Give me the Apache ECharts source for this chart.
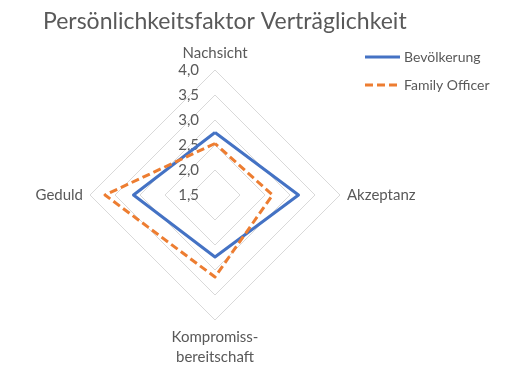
<!DOCTYPE html>
<html><head><meta charset="utf-8">
<script src="https://cdn.jsdelivr.net/npm/echarts@6/dist/echarts.min.js"></script>
<style>html,body{margin:0;padding:0;background:#fff}#c{width:519px;height:389px}</style>
</head><body><div id="c"></div>
<script>
// values in natural (clockwise from top) order
const indicators = ['Nachsicht', 'Akzeptanz', 'Kompromiss-\nbereitschaft', 'Geduld'];
const seriesNames = ['Bevölkerung', 'Family Officer'];
const bevoelkerung = [2.75, 3.17, 2.74, 3.13];
const familyOfficer = [2.53, 2.65, 3.14, 3.7];
const axisMin = 1.5, axisMax = 4.0, axisStep = 0.5;

// ECharts radar runs counter-clockwise; reorder so the layout goes clockwise
const order = [0, 3, 2, 1];
const reorder = arr => order.map(i => arr[i]);

const FONT = 'Lato';
const TXT = '#595959';
const chart = echarts.init(document.getElementById('c'));
chart.setOption({
  backgroundColor: '#fff',
  title: {
    text: 'Persönlichkeitsfaktor Verträglichkeit',
    left: 38, top: 5,
    textStyle: {fontFamily: FONT, fontSize: 23, fontWeight: 'normal', color: TXT}
  },
  legend: [
    {data: [{name: seriesNames[0], icon: 'rect'}], left: 365, top: 50, orient: 'vertical', padding: 0,
     itemWidth: 35, itemHeight: 3, itemGap: 8,
     textStyle: {fontFamily: FONT, fontSize: 14, color: TXT, padding: [0,0,0,-1]}},
    {data: [{name: seriesNames[1], icon: 'path://M0,0h8v3h-8zM12,0h8v3h-8zM24,0h8v3h-8z'}], left: 365, top: 78, orient: 'vertical', padding: 0,
     itemWidth: 32, itemHeight: 3, itemGap: 8,
     textStyle: {fontFamily: FONT, fontSize: 14, color: TXT, padding: [0,0,0,2]}}
  ],
  radar: {
    center: [215, 195], radius: 125, shape: 'polygon', splitNumber: 5,
    startAngle: 90,
    indicator: reorder(indicators).map(n => ({name: n, min: axisMin, max: axisMax})),
    axisName: {fontFamily: FONT, fontSize: 15, color: TXT, lineHeight: 20},
    nameGap: 7,
    axisLine: {show: false},
    axisTick: {show: false},
    axisLabel: {show: false},
    splitArea: {show: false},
    splitLine: {lineStyle: {color: '#d9d9d9', width: 1}}
  },
  polar: {center: [215, 195], radius: 125},
  angleAxis: {type: 'value', min: 0, max: 360, startAngle: 90, show: false},
  radiusAxis: {
    type: 'value', min: axisMin, max: axisMax, interval: axisStep,
    axisLine: {show: false}, axisTick: {show: false}, splitLine: {show: false},
    axisLabel: {fontFamily: FONT, fontSize: 15, color: TXT, margin: 16,
      formatter: v => v.toFixed(1).replace('.', ',')}
  },
  series: [{
    type: 'radar', symbol: 'none',
    data: [
      {name: seriesNames[0], value: reorder(bevoelkerung),
       lineStyle: {color: '#4472C4', width: 3}, itemStyle: {color: '#4472C4'}},
      {name: seriesNames[1], value: reorder(familyOfficer),
       lineStyle: {color: '#ED7D31', width: 3, type: [8, 4]}, itemStyle: {color: '#ED7D31'}}
    ]
  }]
});
</script></body></html>
